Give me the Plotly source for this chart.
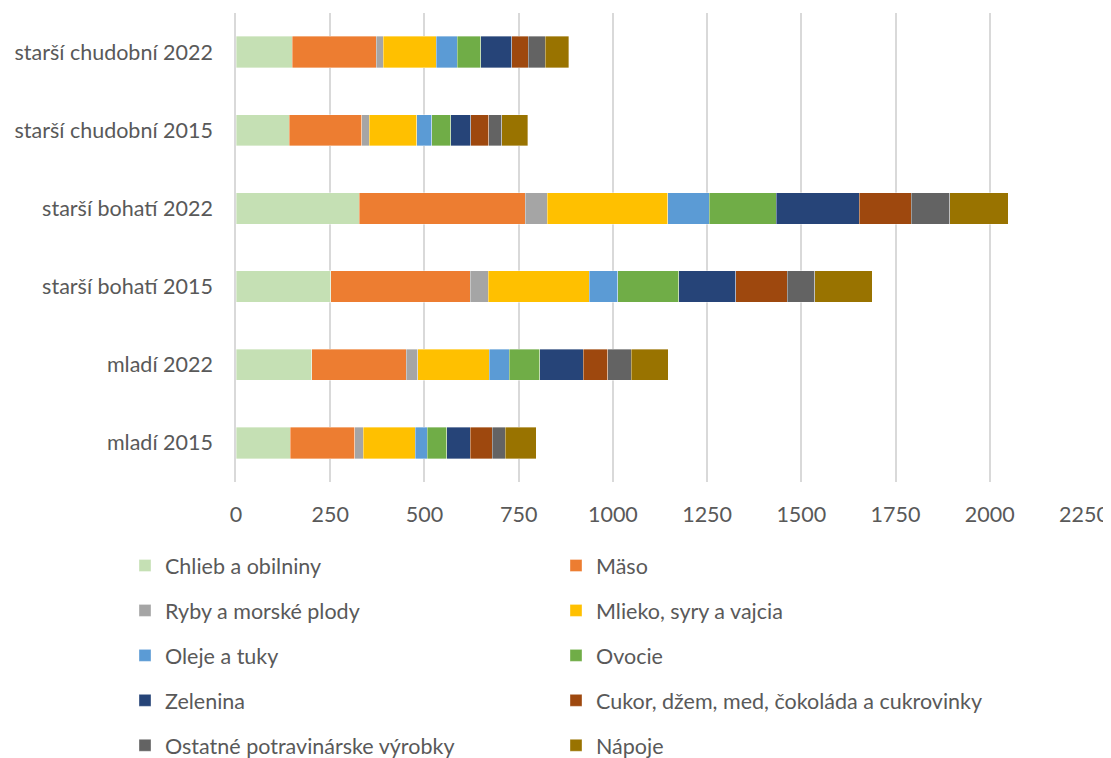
import plotly.graph_objects as go

# skupiny domácností (zdola nahor ako v grafe)
groups = ["mladí 2015", "mladí 2022", "starší bohatí 2015", "starší bohatí 2022",
          "starší chudobní 2015", "starší chudobní 2022"]

chlieb = [144, 201, 252, 327, 141, 149]
maso = [171, 251, 369, 440, 193, 223]
ryby = [22, 30, 48, 59, 19, 19]
mlieko = [138, 190, 268, 320, 126, 140]
oleje = [32, 53, 76, 109, 41, 56]
ovocie = [52, 81, 162, 179, 50, 62]
zelenina = [63, 115, 151, 219, 53, 83]
cukor = [58, 66, 137, 138, 48, 44]
ostatne = [35, 62, 73, 103, 34, 44]
napoje = [81, 98, 152, 155, 69, 63]

x_ticks = [0, 250, 500, 750, 1000, 1250, 1500, 1750, 2000, 2250]

series = [
    ("Chlieb a obilniny", chlieb, "#C5E0B4"),
    ("Mäso", maso, "#ED7D31"),
    ("Ryby a morské plody", ryby, "#A5A5A5"),
    ("Mlieko, syry a vajcia", mlieko, "#FFC000"),
    ("Oleje a tuky", oleje, "#5B9BD5"),
    ("Ovocie", ovocie, "#70AD47"),
    ("Zelenina", zelenina, "#264478"),
    ("Cukor, džem, med, čokoláda a cukrovinky", cukor, "#9E480E"),
    ("Ostatné potravinárske výrobky", ostatne, "#636363"),
    ("Nápoje", napoje, "#997300"),
]

FONT = "Lato, 'Liberation Sans', sans-serif"
GREY = "#595959"
FS = 21.5

# stránka má okraj 8 px, preto je figúra o 8 px menšia
W, H = 1103, 750

fig = go.Figure()
for i, (name, vals, color) in enumerate(series):
    fig.add_trace(go.Bar(
        y=groups, x=vals, name=name, orientation="h",
        marker=dict(color=color, line=dict(color="rgba(255,255,255,0.6)", width=0.6)),
        legend="legend" if i % 2 == 0 else "legend2",
        legendgroup=name,
    ))

legend_common = dict(
    orientation="v", xref="container", yref="container",
    yanchor="top", xanchor="left", tracegroupgap=14,
    font=dict(family=FONT, size=FS, color=GREY),
    bgcolor="rgba(0,0,0,0)", traceorder="grouped",
)

fig.update_layout(
    width=W, height=H,
    barmode="stack", bargap=0.6,
    plot_bgcolor="white", paper_bgcolor="white",
    margin=dict(l=228, r=27, t=5, b=276, autoexpand=False),
    font=dict(family=FONT, size=FS, color=GREY),
    xaxis=dict(
        range=[0, 2250], tickvals=x_ticks, showgrid=True,
        gridcolor="#D9D9D9", gridwidth=1.5, zeroline=False,
        showline=False, ticks="", ticklabelstandoff=17, tickangle=0,
        automargin=False,
        tickfont=dict(family=FONT, size=FS, color=GREY),
    ),
    yaxis=dict(
        showline=True, linecolor="#D9D9D9", linewidth=1.5,
        showgrid=False, ticks="", ticklabelstandoff=17, automargin=False,
        tickfont=dict(family=FONT, size=FS, color=GREY),
    ),
    legend=dict(x=117 / W, y=1 - 537 / H, **legend_common),
    legend2=dict(x=548 / W, y=1 - 537 / H, **legend_common),
)

fig.write_html("out.html")
